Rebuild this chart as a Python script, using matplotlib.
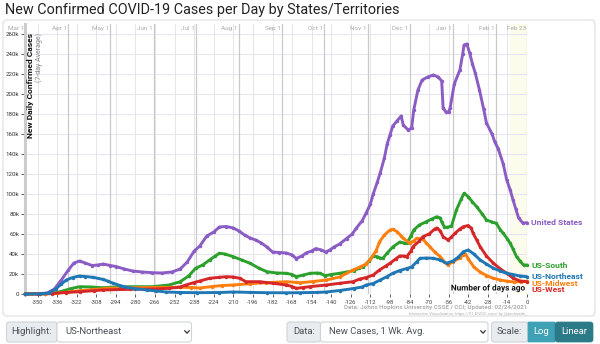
import matplotlib
matplotlib.use("Agg")
import matplotlib.pyplot as plt
from matplotlib.patches import FancyBboxPatch
from matplotlib.lines import Line2D
from matplotlib.transforms import Affine2D, blended_transform_factory
import matplotlib.patheffects as pe

plt.rcParams['font.family'] = ['Roboto', 'DejaVu Sans']

# ---- data: 7-day average of new daily cases (thousands), by days before Feb 23, 2021 ----
us_days = [-359, -350, -343, -338, -333, -328, -324, -320, -316, -311, -307, -303, -298, -294,
           -288, -282, -275, -268, -261, -254, -248, -243, -238, -234, -229, -224, -220, -215,
           -210, -206, -202, -198, -194, -190, -186, -182, -177, -172, -168, -165, -161, -158,
           -154, -151, -147, -144, -141, -138, -134, -129, -125, -122, -118, -115, -112, -110,
           -107, -105, -102, -100, -98, -96, -93, -90, -88.5, -85, -82.5, -81, -78, -75, -71,
           -67, -63.5, -61, -60, -58, -56, -55, -52, -48, -46, -45, -43, -41, -39, -37, -34,
           -31, -29, -25, -23, -20.5, -17, -14.5, -12, -10, -8, -6, -3, 0]
us_cases = [0.1, 0.3, 1, 5, 14, 24, 31, 33, 31, 28.5, 29, 30, 28.5, 27.5,
            25, 23, 22, 21.3, 21, 22, 25, 32, 43, 48, 58, 62, 67, 67.5,
            66, 63, 59, 56, 54, 51, 47, 42, 41.5, 41, 39, 35.5, 38, 41,
            43, 45.5, 44, 42, 44, 47, 50, 55.5, 60, 66, 73, 81, 90, 100,
            112, 121, 136, 150, 159, 168, 173, 178, 169, 164, 166, 184, 204, 214, 217,
            219, 217, 213, 186, 182, 182, 186, 210, 224, 240, 249, 250, 241, 230, 221, 204,
            185, 171, 160, 152, 145, 130, 114, 104, 94, 85, 76, 71, 71.3]

south_days = [-359, -345, -338, -332, -326, -320, -312, -303, -294, -284, -268, -256, -248,
              -242, -237, -232, -227, -223, -220, -216, -210, -204, -198, -192, -186, -179,
              -172, -168, -165, -160, -155, -150, -148, -144.5, -140, -134, -129, -124, -120,
              -117, -113, -110, -107, -105, -103, -100, -96, -91, -88, -86, -83, -81, -77,
              -72, -68, -64.5, -62, -61, -59, -57, -54, -50.5, -47, -45, -42, -39, -36, -32,
              -29, -25, -22, -19, -17, -14, -12, -10, -7.5, -5, -2.5, 0]
south_cases = [0, 0.2, 1, 3, 5.5, 7.3, 7, 6.3, 7, 7.3, 7.3, 9, 12.3,
               18, 25.7, 29, 34, 38, 40.7, 40, 37.3, 34, 30.7, 26, 22.3, 21,
               20.7, 19.5, 17.3, 19, 20.7, 21, 20.7, 18.3, 19.5, 20.7, 22, 23.3, 25.7,
               27.3, 33, 38, 37.3, 36, 35.7, 41, 47, 52, 51, 50.7, 58, 64, 69,
               72.3, 75, 77.3, 76, 72, 67, 66.7, 68, 84, 95, 100.7, 97.3, 92, 87.3, 80,
               74, 72, 70.7, 64, 60.7, 55, 50.7, 45, 37.3, 33, 29, 29]

northeast_days = [-359, -348, -342, -337, -333, -329.5, -325, -320, -316, -310.5, -303.5, -300,
                  -296, -291, -286.5, -280, -272, -265, -258, -248, -236, -220, -210, -198,
                  -186, -172, -162, -150, -143.5, -134, -124, -118, -115, -110, -105, -100,
                  -96, -91, -86, -82.5, -79, -76.5, -72, -67, -62, -57.5, -53, -49, -45.5,
                  -42, -38, -33.5, -29, -24, -19, -14.5, -10, -5, 0]
northeast_cases = [0, 0.2, 1, 5, 10, 14, 16.5, 18, 17.5, 16.7, 14.7, 13,
                   10.7, 8.5, 6.7, 5.3, 4, 3, 2, 1.5, 1.3, 1.5, 2, 1.6,
                   1.3, 1.2, 1.3, 1.6, 2, 3.5, 5.5, 7, 9, 10.5, 14, 17.5,
                   20.7, 23.5, 25.5, 27, 32, 35.7, 36, 35.7, 34, 30.7, 33, 37, 42.3,
                   44, 40, 34, 30, 25.7, 23, 20.7, 19.5, 18, 17.3]

midwest_days = [-359, -345, -336, -328, -320, -310, -299, -285, -267, -250, -240, -234, -225,
                -218, -210, -198, -186.5, -172, -165, -162, -153, -143.5, -134, -124.5, -119.5,
                -115, -112, -108, -105.5, -102, -98, -96, -93, -90, -88.5, -84, -81, -79, -74.5,
                -72, -69.5, -66, -62, -59, -56.5, -53, -48, -45.5, -44, -42, -38, -33.5, -29,
                -24, -19, -14.5, -9, -4, 0]
midwest_cases = [0, 0.2, 0.8, 2, 3.3, 4.5, 5.7, 6.2, 6.5, 6.7, 6.5, 6, 7.5,
                 8.5, 9, 10.3, 11.3, 12.3, 11.6, 11.3, 12.5, 14, 17, 24, 27,
                 30, 35, 43, 52, 59, 64, 64.7, 62.5, 58, 55.7, 51, 53, 55.7, 54.7,
                 51, 47.3, 42, 37.3, 32, 29, 32.3, 36, 39, 40, 35, 27, 22, 18.5,
                 15.7, 14, 12.8, 12, 12.5, 12.8]

west_days = [-359, -350, -340, -330, -320, -310, -303.5, -284, -268, -256, -248, -244, -238,
             -234, -227, -220, -215, -210, -205.5, -201, -191, -181.5, -172, -168, -165, -160,
             -155.5, -143.5, -134, -124.5, -119.5, -115, -110, -105.5, -101, -98, -94, -91,
             -88, -86, -83, -81.5, -77, -74.5, -70, -66, -64.5, -62, -60, -56.5, -54, -51.5,
             -48, -45.5, -42, -40, -38.5, -36, -33.5, -29, -24, -19, -14.5, -10, -5, 0]
west_cases = [0, 0.1, 0.5, 1.5, 2.3, 3.3, 4, 4.7, 5, 5.7, 7, 9, 11.5,
              13, 15.7, 16.7, 17.3, 17, 15.7, 12.3, 12.3, 10.7, 9, 7.5, 5.7, 6.5,
              7.3, 9, 10.7, 12.3, 15, 16.5, 19, 24, 28, 30.7, 35, 38,
              38, 37.3, 43, 47.3, 53, 57.3, 60, 65, 66, 63, 57.3, 54, 57, 60.7,
              65, 67.3, 68.5, 66, 60.7, 54, 47.3, 38, 30.7, 25, 20.7, 16, 13, 12.3]

series_names = ["United States", "US-South", "US-Midwest", "US-West", "US-Northeast"]
series_days = [us_days, south_days, midwest_days, west_days, northeast_days]
series_cases = [us_cases, south_cases, midwest_cases, west_cases, northeast_cases]
series_colors = ["#8a5cc4", "#2ca02c", "#ff7f0e", "#d62728", "#1f77b4"]

month_labels = ["Mar 1", "Apr 1", "May 1", "Jun 1", "Jul 1", "Aug 1", "Sep 1", "Oct 1",
                "Nov 1", "Dec 1", "Jan 1", "Feb 1", "Feb 23"]
month_days = [-359, -328, -298, -267, -237, -206, -175, -145, -114, -84, -53, -22, 0]

x_ticks = list(range(-350, 1, 14))
y_ticks = list(range(0, 261, 20))
y_tick_labels = ["0"] + [f"{v}k" for v in y_ticks[1:]]

# ---- figure, in pixel units ----
W, H = 600, 344
fig = plt.figure(figsize=(W / 100, H / 100), dpi=100)
pix = Affine2D().scale(1, -1).translate(0, H) + Affine2D().scale(1 / W, 1 / H) + fig.transFigure


def box(x0, y0, x1, y1, fc, ec, r=3, lw=0.8, z=1):
    p = FancyBboxPatch((x0, y0), x1 - x0, y1 - y0, boxstyle=f"round,pad=0,rounding_size={r}",
                       transform=pix, facecolor=fc, edgecolor=ec, linewidth=lw, zorder=z)
    fig.add_artist(p)


# title
fig.text(5, 10, "New Confirmed COVID-19 Cases per Day by States/Territories", transform=pix,
         fontsize=10.4, color="#222222", ha="left", va="center")

# chart panel (behind the axes)
box(3, 20, 595, 316, "white", "#dddddd", r=4, z=-5)

# ---- axes ----
L, R, B, T = 25, 527, 294, 24
ax = fig.add_axes([L / W, 1 - B / H, (R - L) / W, (B - T) / H])
ax.set_zorder(2)
ax.set_xlim(-359, 0)
ax.set_ylim(0, 270)
ax.patch.set_alpha(0)
for s in ["top", "right", "bottom"]:
    ax.spines[s].set_visible(False)
ax.spines["left"].set_color("#cccccc")
ax.spines["left"].set_linewidth(2.2)

ax.set_xticks(x_ticks)
ax.set_xticklabels([str(t) for t in x_ticks], fontsize=4.2, color="#444444")
ax.set_yticks(y_ticks)
ax.set_yticklabels(y_tick_labels, fontsize=4.4, color="#333333")
ax.tick_params(axis="x", length=2.5, width=0.6, color="#444444", pad=1.5)
ax.tick_params(axis="y", length=3, width=0.6, color="#444444", pad=1.2)

# grid
for t in x_ticks:
    ax.axvline(t, color="#e6e4f0", lw=0.7, zorder=0.2)
for t in y_ticks[1:]:
    ax.axhline(t, color="#e6e4f0", lw=0.7, zorder=0.2)
ax.axvspan(-12, 0, color="#fcfcec", zorder=0.1, lw=0)

btm = blended_transform_factory(ax.transData, ax.transAxes)
for d, lab in zip(month_days, month_labels):
    ax.axvline(d, color="#c9c9c9", lw=0.9, zorder=0.3)
    ax.text(d - 0.8, 0.985, lab, transform=btm, ha="right", va="center",
            fontsize=4.6, color="#aaaaaa")

# series
for days, cases, col in zip(series_days, series_cases, series_colors):
    ax.plot(days, cases, color=col, lw=2.1, marker="o", ms=2.5, mew=0,
            solid_joinstyle="round", solid_capstyle="round", zorder=3, clip_on=False)

# end labels, nudged apart so they do not overlap
ends = sorted(((c[-1], n, col) for n, c, col in zip(series_names, series_cases, series_colors)),
              reverse=True)
prev = None
for v, name, col in ends:
    y = v if prev is None else min(v, prev - 6.5)
    prev = y
    ax.annotate(name, xy=(0, y), xytext=(3, 0), textcoords="offset points",
                ha="left", va="center", fontsize=6.1, fontweight="bold", color=col,
                annotation_clip=False)

# axis titles
ax.text(5 / (R - L), (B - 33) / (B - T), "New Daily Confirmed Cases", transform=ax.transAxes,
        rotation=90, ha="center", va="top", fontsize=6.1, fontweight="bold", color="#111111")
ax.text(14 / (R - L), (B - 33) / (B - T), "(7-day Average)", transform=ax.transAxes,
        rotation=90, ha="center", va="top", fontsize=5.0, color="#888888")
ax.text(1 - 3 / (R - L), 6 / (B - T), "Number of days ago", transform=ax.transAxes,
        ha="right", va="center", fontsize=5.9, fontweight="bold", color="#111111", zorder=5,
        path_effects=[pe.withStroke(linewidth=2, foreground="white")])

# source notes
fig.text(527, 308, "Data: Johns Hopkins University CSSE / CCI; Updated: 02/24/2021",
         transform=pix, ha="right", va="center", fontsize=4.5, fontweight="bold",
         color="#b0b0b0")
fig.text(527, 314.5, "Interactive Visualization: https://91-DIVOC.com/ by @profwade_",
         transform=pix, ha="right", va="center", fontsize=3.0, color="#b0b0b0")

# ---- control bar ----
def chevron(x, y):
    fig.add_artist(Line2D([x - 2.2, x, x + 2.2], [y - 1.2, y + 1.2, y - 1.2], transform=pix,
                          color="#333333", lw=0.9))


ctl_y0, ctl_y1 = 322, 342
ctl_mid = (ctl_y0 + ctl_y1) / 2
box(6.5, ctl_y0, 57, ctl_y1, "#e9ecef", "#ced4da", r=2.5)
fig.text(31.5, ctl_mid, "Highlight:", transform=pix, ha="center", va="center",
         fontsize=6.8, color="#495057")
box(57, ctl_y0, 191.5, ctl_y1, "white", "#ced4da", r=2.5)
fig.text(65, ctl_mid, "US-Northeast", transform=pix, ha="left", va="center",
         fontsize=6.8, color="#495057")
chevron(187, ctl_mid)

box(287, ctl_y0, 320.5, ctl_y1, "#e9ecef", "#ced4da", r=2.5)
fig.text(304, ctl_mid, "Data:", transform=pix, ha="center", va="center",
         fontsize=6.8, color="#495057")
box(320.5, ctl_y0, 488, ctl_y1, "white", "#ced4da", r=2.5)
fig.text(329, ctl_mid, "New Cases, 1 Wk. Avg.", transform=pix, ha="left", va="center",
         fontsize=6.8, color="#495057")
chevron(483, ctl_mid)

box(491.5, ctl_y0, 528, ctl_y1, "#e9ecef", "#ced4da", r=2.5)
fig.text(509.5, ctl_mid, "Scale:", transform=pix, ha="center", va="center",
         fontsize=6.8, color="#495057")
box(528, ctl_y0, 555, ctl_y1, "#3fa1b5", "#3fa1b5", r=0.5, lw=0.5)
fig.text(541.5, ctl_mid, "Log", transform=pix, ha="center", va="center",
         fontsize=6.8, color="white")
box(555, ctl_y0, 593, ctl_y1, "#2c7a87", "#2c7a87", r=2.5, lw=0.5)
fig.text(574, ctl_mid, "Linear", transform=pix, ha="center", va="center",
         fontsize=6.8, color="white")

fig.savefig("out.png", dpi=100)
